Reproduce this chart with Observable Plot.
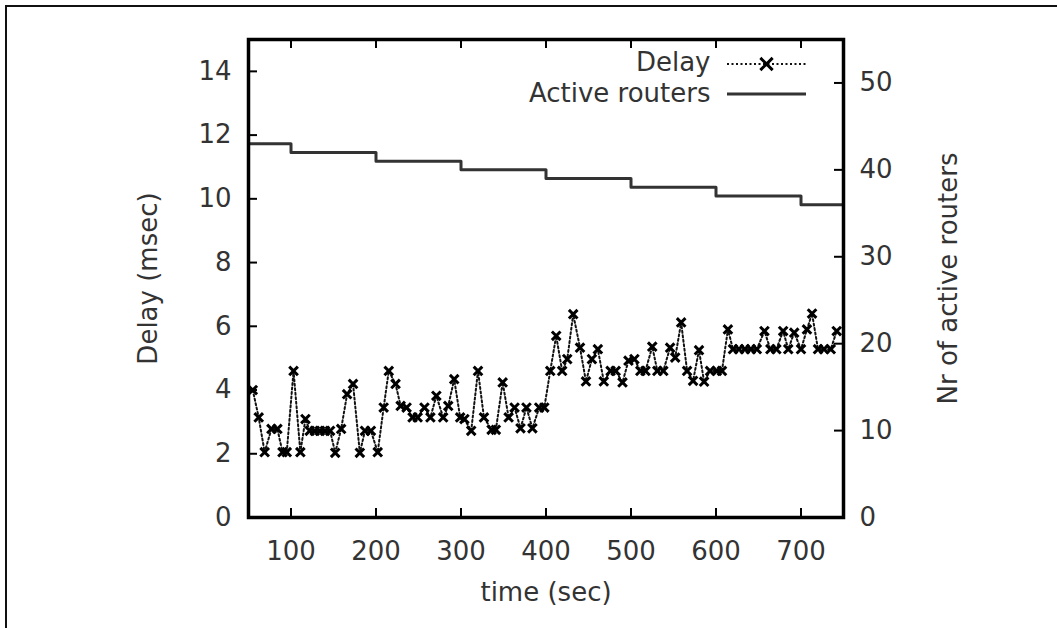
<!DOCTYPE html>
<html><head><meta charset="utf-8">
<script src="https://cdn.jsdelivr.net/npm/d3@7"></script>
<script src="https://cdn.jsdelivr.net/npm/@observablehq/plot@0.6"></script>
<style>
html,body{margin:0;padding:0;background:#fff;overflow:hidden;}
#chart{position:relative;width:1057px;height:628px;}
</style>
</head><body><div id="chart"></div>
<script>
// ---- data ----
const delayTime = [55,62,69,77,84,90,95,103,111,117,122,128,134,140,146,152,159,166,173,181,187,194,202,209,215,223,229,236,243,249,257,264,271,279,285,292,299,304,312,320,327,336,341,349,356,363,370,377,384,392,398,405,412,419,425,432,440,447,454,461,468,476,482,490,497,504,511,517,525,531,538,546,552,559,566,573,580,586,593,601,607,614,620,627,634,641,648,657,664,671,679,685,692,700,707,713,720,727,735,742];
const delayMs   = [4.0,3.14,2.05,2.78,2.78,2.05,2.05,4.6,2.05,3.09,2.72,2.72,2.72,2.72,2.72,2.03,2.78,3.87,4.19,2.03,2.72,2.72,2.05,3.45,4.6,4.19,3.5,3.45,3.14,3.14,3.45,3.14,3.82,3.14,3.5,4.34,3.14,3.09,2.72,4.6,3.14,2.75,2.75,4.24,3.14,3.45,2.8,3.45,2.8,3.45,3.45,4.6,5.7,4.6,4.97,6.38,5.33,4.27,4.97,5.28,4.27,4.6,4.6,4.24,4.92,4.97,4.6,4.6,5.36,4.6,4.6,5.33,5.02,6.12,4.6,4.29,5.25,4.26,4.6,4.6,4.6,5.9,5.28,5.28,5.28,5.28,5.28,5.85,5.28,5.28,5.85,5.28,5.8,5.28,5.9,6.4,5.28,5.28,5.28,5.85];
const routerTime  = [50,100,200,300,400,500,600,700,750];
const routerCount = [43,42,41,40,39,38,37,36,36];
const xTicks  = [100,200,300,400,500,600,700];
const yTicks  = [0,2,4,6,8,10,12,14];
const y2Ticks = [0,10,20,30,40,50];
const xDomain = [50,750];
const yDomain = [0,15];
const y2Max = 55;

const toY = r => r * yDomain[1] / y2Max;
const delay = delayTime.map((t,i)=>({t, d: delayMs[i]}));
const routers = routerTime.map((t,i)=>({t, r: toY(routerCount[i])}));

const W = 1057, H = 628;
const mL = 248, mR = 214, mT = 39, mB = 111;
const fw = W - mL - mR, fh = H - mT - mB;
const tick = 9;
const font = "'DejaVu Sans', Arial, Helvetica, sans-serif";
const fs = 26;
const txt = "#333";

const plot = Plot.plot({
  width: W, height: H,
  marginLeft: mL, marginRight: mR, marginTop: mT, marginBottom: mB,
  x: {domain: xDomain},
  y: {domain: yDomain},
  style: {fontFamily: font, fontSize: fs + "px", background: "white", color: txt, overflow: "visible"},
  marks: [
    // inward ticks
    Plot.tickX(xTicks, {x: d=>d, insetTop: fh - tick, stroke: "#000", strokeWidth: 2}),
    Plot.tickX(xTicks, {x: d=>d, insetBottom: fh - tick, stroke: "#000", strokeWidth: 2}),
    Plot.tickY(yTicks, {y: d=>d, insetRight: fw - tick, stroke: "#000", strokeWidth: 2}),
    Plot.tickY(y2Ticks.map(toY), {y: d=>d, insetLeft: fw - tick, stroke: "#000", strokeWidth: 2}),
    // tick labels
    Plot.axisX(xTicks, {anchor: "bottom", tickSize: 0, tickPadding: 24, fontSize: fs, fill: txt, label: null}),
    Plot.axisY(yTicks, {anchor: "left", tickSize: 0, tickPadding: 17, fontSize: fs, fill: txt, label: null}),
    Plot.axisY(y2Ticks.map(toY), {anchor: "right", tickSize: 0, tickPadding: 16, fontSize: fs, fill: txt, label: null,
      tickFormat: d => String(Math.round(d * y2Max / yDomain[1]))}),
    // axis titles
    Plot.text(["Delay (msec)"], {text: d=>d, frameAnchor: "left", dx: -100, rotate: -90, textAnchor: "middle", lineAnchor: "middle", fontSize: fs, fill: txt}),
    Plot.text(["Nr of active routers"], {text: d=>d, frameAnchor: "right", dx: 105, rotate: -90, textAnchor: "middle", lineAnchor: "middle", fontSize: fs, fill: txt}),
    Plot.text(["time (sec)"], {text: d=>d, frameAnchor: "bottom", dy: 75, lineAnchor: "middle", fontSize: fs, fill: txt}),
    // legend labels
    Plot.text(["Delay"], {text: d=>d, frameAnchor: "top-right", dx: -133, dy: 23, textAnchor: "end", lineAnchor: "middle", fontSize: fs, fill: txt}),
    Plot.text(["Active routers"], {text: d=>d, frameAnchor: "top-right", dx: -133, dy: 54, textAnchor: "end", lineAnchor: "middle", fontSize: fs, fill: txt}),
    // data
    Plot.line(routers, {x: "t", y: "r", curve: "step-after", stroke: "#333", strokeWidth: 3}),
    Plot.line(delay, {x: "t", y: "d", stroke: "#111", strokeWidth: 2, strokeDasharray: "2,2.5"}),
    Plot.dot(delay, {x: "t", y: "d", symbol: "times", r: 4, stroke: "#000", strokeWidth: 3}),
    Plot.frame({stroke: "#000", strokeWidth: 3.5})
  ]
});
document.getElementById("chart").appendChild(plot);

// legend samples and outer figure border
const svg = d3.select(plot);
const g = svg.append("g");
const lx1 = W - mR - 116, lx2 = W - mR - 37;
g.append("line").attr("x1", lx1).attr("x2", lx2).attr("y1", mT + 25).attr("y2", mT + 25)
  .attr("stroke", "#111").attr("stroke-width", 2).attr("stroke-dasharray", "2,2.5");
g.append("path").attr("d", d3.symbol(d3.symbolTimes, 100)())
  .attr("transform", `translate(${(lx1 + lx2) / 2},${mT + 25})`)
  .attr("fill", "none").attr("stroke", "#000").attr("stroke-width", 3);
g.append("line").attr("x1", lx1).attr("x2", lx2).attr("y1", mT + 55).attr("y2", mT + 55)
  .attr("stroke", "#333").attr("stroke-width", 3);
g.append("line").attr("x1", 5).attr("x2", W).attr("y1", 6).attr("y2", 6).attr("stroke", "#111").attr("stroke-width", 2);
g.append("line").attr("x1", 6).attr("x2", 6).attr("y1", 5).attr("y2", H).attr("stroke", "#111").attr("stroke-width", 2);
</script>
</body></html>
